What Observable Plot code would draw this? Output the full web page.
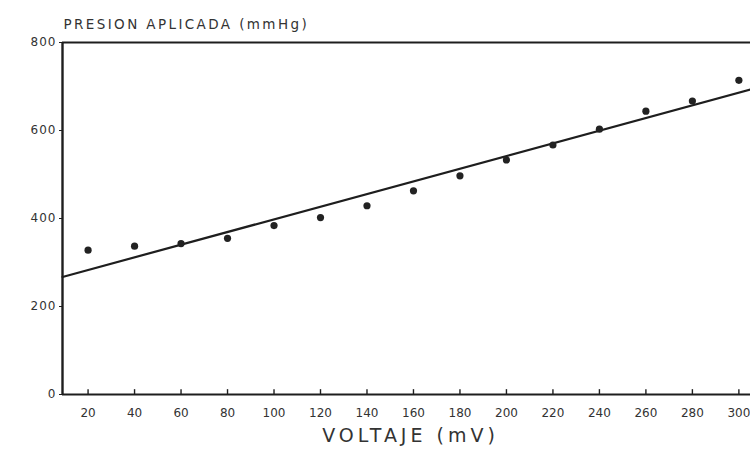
<!DOCTYPE html>
<html>
<head>
<meta charset="utf-8">
<script src="https://cdn.jsdelivr.net/npm/d3@7"></script>
<script src="https://cdn.jsdelivr.net/npm/@observablehq/plot@0.6"></script>
<style>
  html, body { margin: 0; padding: 0; background: #fff; }
  #chart svg { display: block; }
</style>
</head>
<body>
<div id="chart"></div>
<script>
// Data
const voltaje = [20, 40, 60, 80, 100, 120, 140, 160, 180, 200, 220, 240, 260, 280, 300];
const presion = [328, 337, 343, 355, 384, 402, 429, 463, 497, 533, 567, 603, 644, 667, 714];
const xTicks = [20, 40, 60, 80, 100, 120, 140, 160, 180, 200, 220, 240, 260, 280, 300];
const yTicks = [0, 200, 400, 600, 800];
const yTitle = "PRESION APLICADA (mmHg)";
const xTitle = "VOLTAJE (mV)";

const points = voltaje.map((v, i) => ({x: v, y: presion[i]}));

// least-squares fit of the data
const mx = d3.mean(voltaje), my = d3.mean(presion);
const slope = d3.sum(points, d => (d.x - mx) * (d.y - my)) / d3.sum(points, d => (d.x - mx) ** 2);
const intercept = my - slope * mx;

const xDomain = [9, 305];
const fitLine = xDomain.map(x => ({x, y: intercept + slope * x}));

const ink = "#1e1e1e";
const font = "DejaVu Sans, Liberation Sans, sans-serif";

const chart = Plot.plot({
  width: 750,
  height: 458,
  marginLeft: 62,
  marginRight: 0,
  marginTop: 42,
  marginBottom: 64,
  style: {fontFamily: font, color: ink, background: "#fff"},
  x: {domain: xDomain},
  y: {domain: [0, 800]},
  marks: [
    Plot.ruleY([800], {stroke: ink, strokeWidth: 2.2}),
    Plot.ruleY([0], {stroke: ink, strokeWidth: 2.2}),
    Plot.ruleX([xDomain[0]], {stroke: ink, strokeWidth: 2.4}),
    Plot.ruleX(xTicks, {y1: 0, y2: 11, stroke: ink, strokeWidth: 1.4}),
    Plot.axisY({ticks: yTicks, tickSize: 3, tickPadding: 3, fontSize: 12, label: null, stroke: ink, fill: "#333"}),
    Plot.axisX({ticks: xTicks, tickSize: 0, tickPadding: 14, fontSize: 12, label: null, fill: "#333"}),
    Plot.line(fitLine, {x: "x", y: "y", stroke: ink, strokeWidth: 2.2}),
    Plot.dot(points, {x: "x", y: "y", r: 3.6, fill: "#222", stroke: "none"}),
    Plot.text([yTitle], {frameAnchor: "top-left", dx: 1, dy: -23, textAnchor: "start", fontSize: 13.5, fill: "#333"}),
    Plot.text([xTitle], {frameAnchor: "bottom", dx: 4, dy: 47, fontSize: 19, fill: "#333"})
  ]
});

// widen the letter spacing to match the plotter lettering
d3.select(chart).selectAll("text").each(function () {
  const t = this.textContent;
  if (t === yTitle) this.setAttribute("letter-spacing", "2.4");
  else if (t === xTitle) this.setAttribute("letter-spacing", "4");
});
d3.select(chart).selectAll("g[aria-label='y-axis tick label'] text").attr("letter-spacing", "1");

document.getElementById("chart").appendChild(chart);
</script>
</body>
</html>
